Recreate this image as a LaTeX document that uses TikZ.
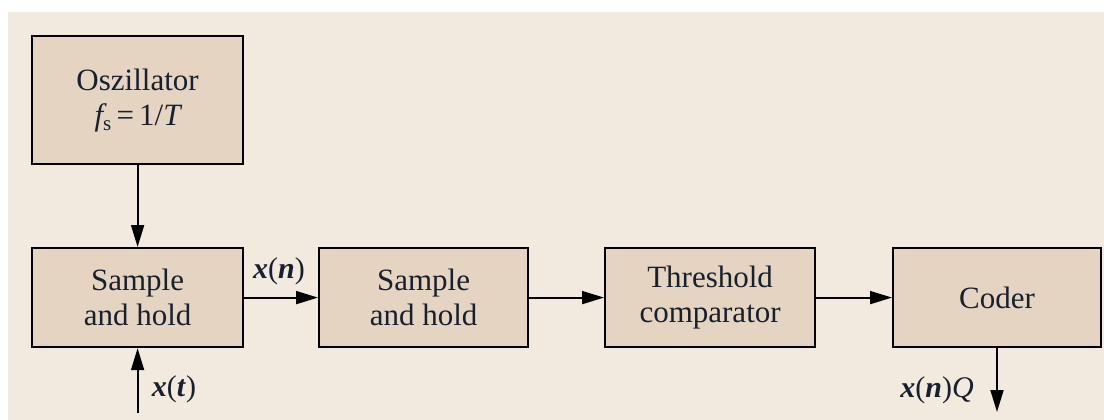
\documentclass[tikz,border=0pt]{standalone}
\usepackage{fontspec}
\setmainfont{Liberation Serif}
\usetikzlibrary{arrows.meta}
\definecolor{bgc}{HTML}{F2EADF}
\definecolor{boxc}{HTML}{E5D4C1}
\definecolor{txtc}{HTML}{18202E}
\tikzset{
  blk/.style={draw=black, line width=2.2pt, fill=boxc, minimum width=211pt, minimum height=99pt, inner sep=0pt, align=center, font=\fontsize{31}{35}\selectfont, text=txtc, anchor=north west},
  conn/.style={line width=1.8pt, -{Triangle[length=22pt,width=13pt]}},
  lbl/.style={font=\fontsize{30}{35}\selectfont, text=txtc, inner sep=0pt}
}
\begin{document}
\begin{tikzpicture}[x=1pt,y=-1pt]
\useasboundingbox (0,0) rectangle (1104,420);
\fill[bgc] (8,12) rectangle (1104,420);
\node[blk, minimum height=128pt] (osc) at (31,35) {Oszillator\\{\itshape f}\raisebox{-0.35ex}{\fontsize{21}{21}\selectfont s}\,=\,1/{\itshape T}};
\node[blk] (sh1) at (31,247) {Sample\\and hold};
\node[blk, minimum width=209pt] (sh2) at (318,247) {Sample\\and hold};
\node[blk, minimum width=210pt] (thr) at (604,247) {Threshold\\comparator};
\node[blk, minimum width=208pt] (cod) at (892,247) {Coder};
\coordinate (xin) at (136,413);
\coordinate (xout) at (997,412);
\draw[conn] (osc.south) -- (sh1.north);
\draw[conn] (sh1.south |- xin) -- (sh1.south);
\draw[conn] (sh1.east) -- (sh2.west);
\draw[conn] (sh2.east) -- (thr.west);
\draw[conn] (thr.east) -- (cod.west);
\draw[conn] (cod.south -| xout) -- (xout);
\node[lbl] (lxn) at (279,271) {\textbf{\textit{x}}(\textbf{\textit{n}})};
\node[lbl] (lxt) at (174,389) {\textbf{\textit{x}}(\textbf{\textit{t}})};
\node[lbl] (lxq) at (937,390) {\textbf{\textit{x}}(\textbf{\textit{n}})\textit{Q}};
\end{tikzpicture}
\end{document}
